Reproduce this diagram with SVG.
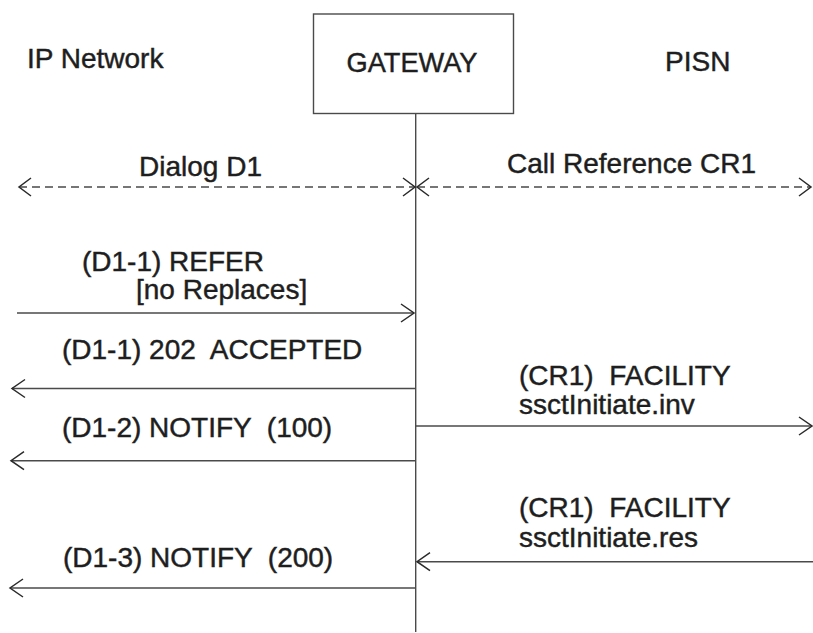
<svg xmlns="http://www.w3.org/2000/svg" width="813" height="633" viewBox="0 0 813 633">
<style>
text{font-family:"Liberation Sans",Arial,sans-serif;font-size:28px;fill:#1e1e1e;stroke:#1e1e1e;stroke-width:0.45}
.ln{stroke:#4a4a4a;stroke-width:1.4;fill:none}
.dash{stroke-dasharray:8 5}
.ah{stroke:#2a2a2a;stroke-width:1.5;fill:none}
</style>
<rect width="813" height="633" fill="#fff"/>
<g id="ip-network"><text x="27" y="68">IP Network</text></g>
<g id="gateway">
<rect x="313.5" y="14" width="200" height="99.5" class="ln"/>
<text x="412" y="72" text-anchor="middle" textLength="131" lengthAdjust="spacingAndGlyphs">GATEWAY</text>
<line x1="415.7" y1="113.5" x2="415.7" y2="632" class="ln"/>
</g>
<g id="pisn"><text x="665" y="71">PISN</text></g>
<g id="connectors">
<line x1="19" y1="187" x2="415" y2="187" class="ln dash"/>
<path d="M31,178 L19,187 L31,196" class="ah"/>
<path d="M403,178 L415,187 L403,196" class="ah"/>
<text x="139" y="176">Dialog D1</text>
<line x1="417" y1="187" x2="811" y2="187" class="ln dash"/>
<path d="M429,178 L417,187 L429,196" class="ah"/>
<path d="M799,178 L811,187 L799,196" class="ah"/>
<text x="507" y="173">Call Reference CR1</text>

<line x1="17" y1="313" x2="414" y2="313" class="ln"/>
<path d="M401,304 L414,313 L401,322" class="ah"/>
<text x="82" y="271">(D1-1) REFER</text>
<text x="136" y="299">[no Replaces]</text>

<line x1="12" y1="388.5" x2="415" y2="388.5" class="ln"/>
<path d="M25,379.5 L12,388.5 L25,397.5" class="ah"/>
<text x="62" y="359" xml:space="preserve">(D1-1) 202  ACCEPTED</text>

<line x1="416" y1="426" x2="812" y2="426" class="ln"/>
<path d="M799,417 L812,426 L799,435" class="ah"/>
<text x="519" y="385" xml:space="preserve">(CR1)  FACILITY</text>
<text x="519" y="414">ssctInitiate.inv</text>

<line x1="11" y1="460.7" x2="415" y2="460.7" class="ln"/>
<path d="M24,451.7 L11,460.7 L24,469.7" class="ah"/>
<text x="62" y="437" xml:space="preserve">(D1-2) NOTIFY  (100)</text>

<line x1="417" y1="561.7" x2="813" y2="561.7" class="ln"/>
<path d="M430,552.7 L417,561.7 L430,570.7" class="ah"/>
<text x="519" y="517" xml:space="preserve">(CR1)  FACILITY</text>
<text x="519" y="547">ssctInitiate.res</text>

<line x1="10" y1="588" x2="415" y2="588" class="ln"/>
<path d="M23,579 L10,588 L23,597" class="ah"/>
<text x="63" y="567" xml:space="preserve">(D1-3) NOTIFY  (200)</text>
</g>
</svg>
